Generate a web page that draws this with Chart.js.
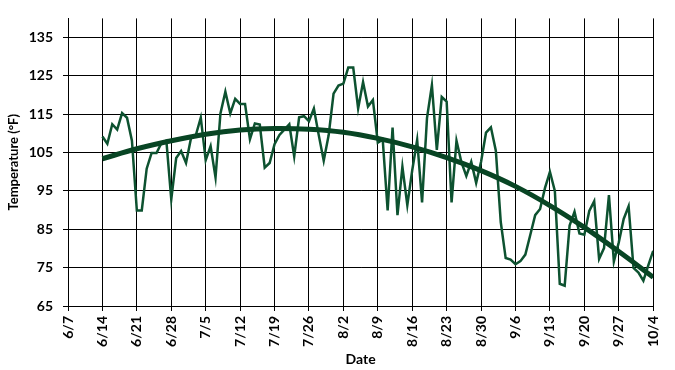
<!DOCTYPE html>
<html>
<head>
<meta charset="utf-8">
<script src="https://cdn.jsdelivr.net/npm/chart.js@4/dist/chart.umd.min.js"></script>
<style>
  html, body { margin: 0; padding: 0; background: #fff; }
</style>
</head>
<body>
<canvas id="c" width="675" height="370"></canvas>
<script>
// x axis is "days since 6/7", one tick per week
const tickLabels = ["6/7","6/14","6/21","6/28","7/5","7/12","7/19","7/26","8/2","8/9","8/16","8/23","8/30","9/6","9/13","9/20","9/27","10/4"];
const yTickValues = [65, 75, 85, 95, 105, 115, 125, 135];

// daily readings, first one on 6/14 (day 7)
const firstDay = 7;
const temps = [
  109.2, 107.3, 112.4, 111.0, 115.3, 114.1, 108.1, 89.9, 89.9, 100.8,
  104.9, 104.9, 107.5, 108.1, 92.8, 103.6, 105.4, 102.3, 108.7, 109.6,
  114.1, 103.0, 106.7, 98.5, 115.2, 120.9, 115.2, 119.0, 117.7, 117.7,
  108.5, 112.6, 112.3, 101.1, 102.3, 107.2, 109.6, 111.0, 112.4, 104.0,
  114.2, 114.5, 113.2, 116.5, 109.5, 102.9, 109.5, 120.4, 122.5, 123.0,
  127.2, 127.2, 116.5, 123.4, 117.0, 118.7, 107.6, 108.4, 89.9, 111.5,
  88.7, 101.3, 91.3, 100.4, 108.3, 92.0, 114.0, 122.6, 105.7, 119.5,
  118.3, 92.0, 108.1, 102.5, 98.9, 102.6, 97.1, 102.6, 110.2, 111.6,
  105.5, 86.9, 77.5, 77.1, 75.9, 76.7, 78.4, 83.5, 88.7, 90.3,
  95.8, 100.0, 95.0, 70.8, 70.3, 86.0, 89.6, 83.9, 83.6, 89.8,
  92.3, 77.3, 80.1, 93.9, 76.6, 81.6, 87.7, 91.0, 74.9, 73.7,
  71.6, 75.6, 79.4
];

// trend line, read weekly
const trendDays = [7, 14, 21, 28, 35, 42, 49, 56, 63, 70, 77, 84, 91, 98, 105, 112, 119];
const trendTemps = [103.4, 106.0, 108.1, 109.8, 110.9, 111.3, 111.1, 110.3, 108.7, 106.5, 103.7, 100.3, 96.2, 91.2, 85.5, 79.2, 72.5];

const FONT = { family: "Lato", weight: "bold", size: 14 };

const ctx = document.getElementById("c");
new Chart(ctx, {
  type: "line",
  data: {
    datasets: [
      {
        label: "Trend",
        data: trendDays.map((d, i) => ({ x: d, y: trendTemps[i] })),
        borderColor: "#084524",
        borderWidth: 5,
        pointRadius: 0,
        tension: 0.4,
        order: 0,
      },
      {
        label: "Temperature",
        data: temps.map((t, i) => ({ x: firstDay + i, y: t })),
        borderColor: "#0d5230",
        borderWidth: 2.5,
        pointRadius: 0,
        tension: 0,
        order: 1,
      },
    ],
  },
  options: {
    responsive: false,
    animation: false,
    devicePixelRatio: 1,
    layout: { padding: { top: 12, right: 7, left: 0, bottom: 0 } },
    plugins: { legend: { display: false }, tooltip: { enabled: false } },
    scales: {
      x: {
        type: "linear", min: 0, max: 119,
        afterFit: s => { s.height = 64; },
        ticks: {
          stepSize: 7, autoSkip: false, minRotation: 90, maxRotation: 90,
          padding: 5, color: "#000", font: FONT,
          callback: v => tickLabels[Math.round(v / 7)],
        },
        grid: { color: "#000", lineWidth: 1, tickLength: 5 },
        border: { color: "#000" },
        title: { display: true, text: "Date", color: "#000", font: FONT, padding: { top: 0, bottom: 2 } },
      },
      y: {
        min: 65, max: 140,
        afterFit: s => { s.width = 68; },
        afterBuildTicks: s => { s.ticks = yTickValues.map(v => ({ value: v })); },
        ticks: { padding: 10, color: "#000", font: FONT },
        grid: { color: "#000", lineWidth: 1, tickLength: 5 },
        border: { color: "#000" },
        title: { display: true, text: "Temperature (°F)", color: "#000", font: { family: "Lato", weight: "bold", size: 13 }, padding: { top: 6, bottom: 0 } },
      },
    },
  },
});
</script>
</body>
</html>
